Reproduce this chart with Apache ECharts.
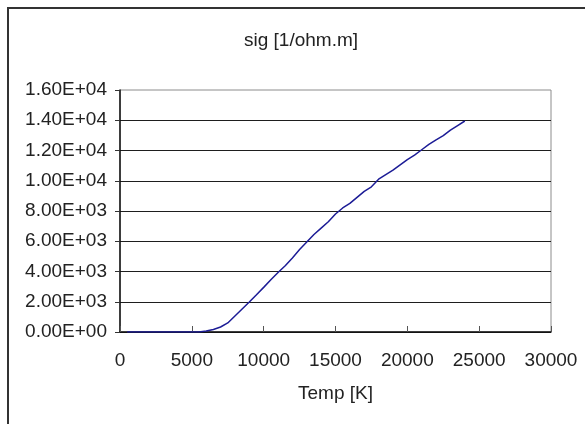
<!DOCTYPE html>
<html>
<head>
<meta charset="utf-8">
<script src="https://cdn.jsdelivr.net/npm/echarts@6/dist/echarts.min.js"></script>
<style>
  html, body { margin: 0; padding: 0; background: #fff; }
  #container { width: 585px; height: 424px; }
</style>
</head>
<body>
<div id="container"></div>
<script>
// temperature [K] and conductivity
var temps = [500, 1000, 1500, 2000, 2500, 3000, 3500, 4000, 4500, 5000,
    5500, 6000, 6500, 7000, 7500, 8000, 8500, 9000, 9500, 10000,
    10500, 11000, 11500, 12000, 12500, 13000, 13500, 14000, 14500, 15000,
    15500, 16000, 16500, 17000, 17500, 18000, 18500, 19000, 19500, 20000,
    20500, 21000, 21500, 22000, 22500, 23000, 23500, 24000];
var sig = [0, 0, 0, 0, 0, 0, 0, 0, 0, 0,
    0, 60, 170, 330, 600, 1060, 1520, 1980, 2460, 2950,
    3450, 3930, 4380, 4900, 5450, 5950, 6450, 6870, 7290, 7800,
    8200, 8500, 8900, 9300, 9600, 10100, 10400, 10700, 11050, 11400,
    11700, 12050, 12400, 12700, 12980, 13350, 13650, 13950];

var chartTitle = 'sig [1/ohm.m]';
var xName = 'Temp [K]';

var chart = echarts.init(document.getElementById('container'));

function sci(v) {
    if (v === 0) return '0.00E+00';
    var e = Math.floor(Math.log10(Math.abs(v)));
    var m = (v / Math.pow(10, e)).toFixed(2);
    var es = (e < 0 ? '-' : '+') + (Math.abs(e) < 10 ? '0' : '') + Math.abs(e);
    return m + 'E' + es;
}

var seriesData = temps.map(function (t, i) { return [t, sig[i]]; });
var font = 'Liberation Sans';

var option = {
    animation: false,
    title: {
        text: chartTitle,
        left: 239,
        top: 26,
        textStyle: {
            fontFamily: font,
            fontSize: 19,
            fontWeight: 'normal',
            color: '#222'
        }
    },
    graphic: [{
        type: 'rect',
        shape: { x: 8, y: 8, width: 600, height: 430 },
        style: { fill: 'none', stroke: '#333', lineWidth: 2 }
    }],
    grid: {
        left: 120,
        right: 34,
        top: 90,
        bottom: 92,
        show: true,
        borderColor: '#8c8c8c',
        borderWidth: 1,
        containLabel: false
    },
    xAxis: {
        type: 'value',
        min: 0,
        max: 30000,
        interval: 5000,
        name: xName,
        nameLocation: 'middle',
        nameGap: 52,
        nameTextStyle: { fontFamily: font, fontSize: 19, color: '#222' },
        axisLine: { lineStyle: { color: '#111', width: 1.5 } },
        axisTick: { inside: true, length: 6, lineStyle: { color: '#555' } },
        axisLabel: {
            fontFamily: font, fontSize: 19, color: '#222', margin: 19,
            formatter: function (v) { return String(v); }
        },
        splitLine: { show: false }
    },
    yAxis: {
        type: 'value',
        min: 0,
        max: 16000,
        interval: 2000,
        axisLine: { show: true, lineStyle: { color: '#111', width: 1.5 } },
        axisTick: { show: true, length: 5, lineStyle: { color: '#333' } },
        axisLabel: {
            fontFamily: font, fontSize: 19, color: '#222', margin: 13,
            formatter: sci
        },
        splitLine: {
            show: true,
            showMaxLine: false,
            lineStyle: { color: '#1e1e1e', width: 1 }
        }
    },
    series: [{
        type: 'line',
        data: seriesData,
        showSymbol: false,
        smooth: false,
        lineStyle: { color: '#1c1c96', width: 1.5 }
    }]
};
chart.setOption(option);

window.addEventListener('resize', function () {
    chart.resize();
});
</script>
</body>
</html>
